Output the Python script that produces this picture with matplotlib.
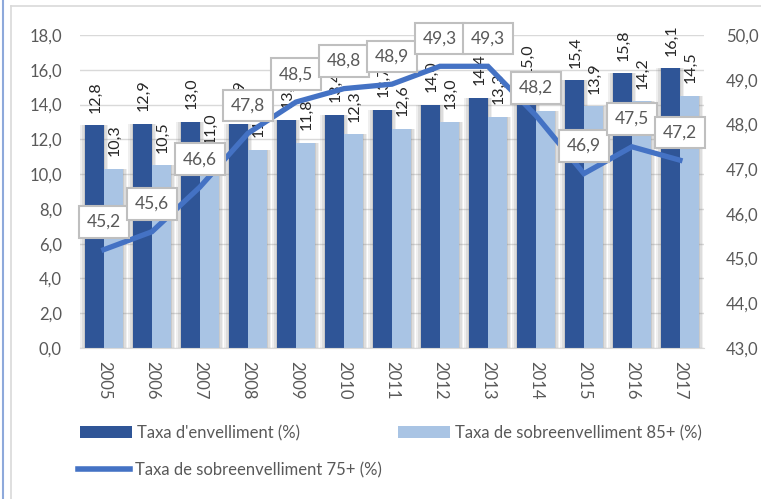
import matplotlib.pyplot as plt
from matplotlib.lines import Line2D

plt.rcParams['font.family'] = ['Lato', 'DejaVu Sans']

years = ['2005', '2006', '2007', '2008', '2009', '2010', '2011',
         '2012', '2013', '2014', '2015', '2016', '2017']
envelliment = [12.8, 12.9, 13.0, 12.9, 13.1, 13.4, 13.7, 14.0, 14.4, 15.0, 15.4, 15.8, 16.1]
sobre85 = [10.3, 10.5, 11.0, 11.4, 11.8, 12.3, 12.6, 13.0, 13.3, 13.6, 13.9, 14.2, 14.5]
sobre75 = [45.2, 45.6, 46.6, 47.8, 48.5, 48.8, 48.9, 49.3, 49.3, 48.2, 46.9, 47.5, 47.2]

dark = '#2F5597'
light = '#A9C4E4'
line_c = '#4472C4'
grey_txt = '#595959'

fig = plt.figure(figsize=(7.61, 4.99), dpi=100)
ax = fig.add_axes([0.105, 0.3026, 0.82, 0.6273])
ax2 = ax.twinx()

x = list(range(len(years)))
w = 0.4
xd = [i - w / 2 for i in x]
xl = [i + w / 2 for i in x]

# soft shadow behind the bars
for k, a in [(0.18, 0.12), (0.11, 0.16), (0.05, 0.2)]:
    ax.bar(xd, envelliment, width=w + k, color='#7f7f7f', alpha=a, zorder=1, linewidth=0)
    ax.bar(xl, sobre85, width=w + k, color='#7f7f7f', alpha=a, zorder=1, linewidth=0)

b1 = ax.bar(xd, envelliment, width=w, color=dark, zorder=2)
b2 = ax.bar(xl, sobre85, width=w, color=light, zorder=2)

for xi, v in zip(xd, envelliment):
    ax.annotate(f'{v:.1f}'.replace('.', ','), (xi, v), xytext=(1, 9), textcoords='offset points',
                rotation=90, ha='center', va='bottom', fontsize=11.5, color='#262626', zorder=3)
for xi, v in zip(xl, sobre85):
    ax.annotate(f'{v:.1f}'.replace('.', ','), (xi, v), xytext=(1, 9), textcoords='offset points',
                rotation=90, ha='center', va='bottom', fontsize=11.5, color='#262626', zorder=3)

ax.set_ylim(0, 18)
ax.set_xlim(-0.5, len(years) - 0.5)
ax.set_yticks(range(0, 19, 2))
ax.set_yticklabels([f'{t:.1f}'.replace('.', ',') for t in range(0, 19, 2)])
ax.grid(axis='y', color='#d9d9d9', linewidth=1, zorder=0)
ax.set_axisbelow(True)
ax.set_xticks(x)
ax.set_xticklabels(years, rotation=-90)
ax.tick_params(axis='x', length=0, pad=9, labelsize=12, labelcolor=grey_txt)
ax.tick_params(axis='y', length=0, pad=13, labelsize=12, labelcolor=grey_txt)
for s in ['top', 'left', 'right']:
    ax.spines[s].set_visible(False)
ax.spines['bottom'].set_color('#d9d9d9')

ln, = ax2.plot(x, sobre75, color=line_c, linewidth=3.8, solid_joinstyle='miter', zorder=4)
for xi, v in zip(x, sobre75):
    ax2.annotate(f'{v:.1f}'.replace('.', ','), (xi, v), xytext=(0, 20), textcoords='offset points',
                 ha='center', va='center', fontsize=12.5, color=grey_txt, zorder=6,
                 bbox=dict(boxstyle='square,pad=0.45', fc='white', ec='#bfbfbf', lw=1.5))
ax2.set_ylim(43, 50)
ax2.set_yticks(range(43, 51))
ax2.set_yticklabels([f'{t:.1f}'.replace('.', ',') for t in range(43, 51)])
ax2.tick_params(axis='y', length=0, pad=16, labelsize=12, labelcolor=grey_txt)
for s in ['top', 'left', 'right', 'bottom']:
    ax2.spines[s].set_visible(False)

leg_kw = dict(frameon=False, fontsize=12, labelcolor=grey_txt, handlelength=3.1,
              handletextpad=0.3, borderpad=0, borderaxespad=0, handleheight=0.7)
leg1 = fig.legend([b1, b2], ["Taxa d'envelliment (%)", 'Taxa de sobreenvelliment 85+ (%)'],
                  ncol=2, loc='center left', bbox_to_anchor=(80 / 761, 1 - 433 / 499),
                  columnspacing=5.9, **leg_kw)
leg2 = fig.legend([ln], ['Taxa de sobreenvelliment 75+ (%)'],
                  loc='center left', bbox_to_anchor=(78 / 761, 1 - 470 / 499), **leg_kw)
leg2.get_lines()[0].set_linewidth(4)

# chart frame lines
fig.add_artist(Line2D([0.004, 0.004], [0, 1], color='#8EA9DB', linewidth=1.5))
fig.add_artist(Line2D([0.0145, 0.0145], [0, 0.988], color='#d9d9d9', linewidth=1.2))
fig.add_artist(Line2D([0.0145, 1], [0.988, 0.988], color='#d9d9d9', linewidth=1.2))

fig.savefig('out.png', dpi=100)
